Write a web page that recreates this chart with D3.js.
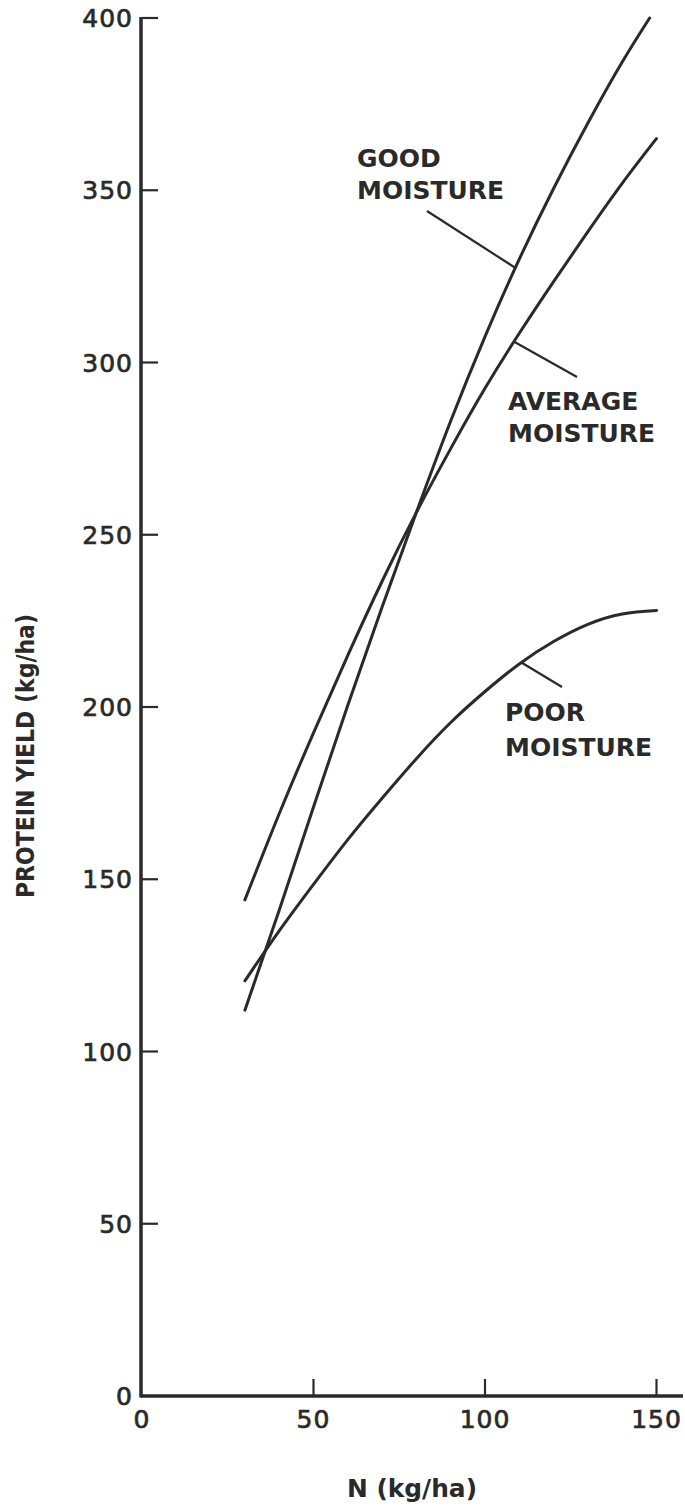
<!DOCTYPE html>
<html>
<head>
<meta charset="utf-8">
<script src="https://cdn.jsdelivr.net/npm/d3@7"></script>
<style>
  html, body { margin: 0; padding: 0; background: #fff; }
  svg { display: block; }
</style>
</head>
<body>
<div id="chart"></div>
<script>
// Protein yield response to applied nitrogen under three moisture regimes
const goodN = [30, 40, 50, 60, 70, 80, 90, 100, 110, 120, 130, 140, 148];
const goodYield = [112, 141, 171, 200.5, 229, 256.5, 283, 307.5, 330, 350.5, 369.5, 387.2, 400];

const averageN = [30, 40, 50, 60, 70, 80, 90, 100, 110, 120, 130, 140, 150];
const averageYield = [144, 169, 192.5, 215, 236.5, 256.5, 275, 292.5, 308.5, 323.5, 338, 352, 365];

const poorN = [30, 40, 50, 60, 70, 80, 90, 100, 110, 120, 130, 140, 150];
const poorYield = [120.5, 135, 148.5, 161.5, 173.5, 185, 195.5, 204.5, 212.5, 219, 224, 227, 228];

const xTicks = [0, 50, 100, 150];
const yTicks = [0, 50, 100, 150, 200, 250, 300, 350, 400];

const seriesLabels = [
  { lines: ["GOOD", "MOISTURE"], n: 108.8, v: 327.5 },
  { lines: ["AVERAGE", "MOISTURE"], n: 108.5, v: 306 },
  { lines: ["POOR", "MOISTURE"], n: 110.5, v: 213 }
];

const W = 685, H = 1509;
const ink = "#2a2a2a";
const font = "'DejaVu Sans', sans-serif";

const svg = d3.select("#chart").append("svg")
  .attr("width", W).attr("height", H)
  .style("background", "#fff");

const x = d3.scaleLinear().domain([0, 150]).range([142, 656.5]);
const y = d3.scaleLinear().domain([0, 400]).range([1396, 18]);

// axes
const g = svg.append("g");
g.append("line")
  .attr("x1", x(0) - 1).attr("x2", 683)
  .attr("y1", y(0)).attr("y2", y(0))
  .attr("stroke", ink).attr("stroke-width", 3.5);
g.append("line")
  .attr("x1", x(0) - 1).attr("x2", x(0) - 1)
  .attr("y1", y(0) + 1.5).attr("y2", y(400) - 1)
  .attr("stroke", ink).attr("stroke-width", 3.5);

// y ticks point into the plot
g.selectAll(".ytick").data(yTicks.filter(d => d > 0)).join("line")
  .attr("x1", x(0)).attr("x2", x(0) + 16)
  .attr("y1", d => y(d)).attr("y2", d => y(d))
  .attr("stroke", ink).attr("stroke-width", 2.2);
g.selectAll(".ylab").data(yTicks).join("text")
  .attr("x", 133).attr("y", d => y(d))
  .attr("dy", "0.36em")
  .attr("text-anchor", "end")
  .attr("font-family", font).attr("font-size", 25)
  .attr("letter-spacing", 1)
  .attr("fill", ink).attr("stroke", ink).attr("stroke-width", 0.7)
  .text(d => d);

// x ticks point up into the plot
g.selectAll(".xtick").data(xTicks.filter(d => d > 0)).join("line")
  .attr("x1", d => x(d)).attr("x2", d => x(d))
  .attr("y1", y(0)).attr("y2", y(0) - 17)
  .attr("stroke", ink).attr("stroke-width", 2.2);
g.selectAll(".xlab").data(xTicks).join("text")
  .attr("x", d => x(d)).attr("y", 1428)
  .attr("text-anchor", "middle")
  .attr("font-family", font).attr("font-size", 25)
  .attr("letter-spacing", 1)
  .attr("fill", ink).attr("stroke", ink).attr("stroke-width", 0.7)
  .text(d => d);

// axis titles
svg.append("text")
  .attr("x", 412).attr("y", 1497)
  .attr("text-anchor", "middle")
  .attr("font-family", font).attr("font-weight", "bold").attr("font-size", 25)
  .attr("textLength", 130).attr("lengthAdjust", "spacingAndGlyphs")
  .attr("fill", ink)
  .text("N (kg/ha)");
svg.append("text")
  .attr("transform", "translate(34,756) rotate(-90)")
  .attr("text-anchor", "middle")
  .attr("font-family", font).attr("font-weight", "bold").attr("font-size", 24)
  .attr("textLength", 284).attr("lengthAdjust", "spacingAndGlyphs")
  .attr("fill", ink)
  .text("PROTEIN YIELD (kg/ha)");

// response curves
const line = d3.line()
  .x(d => x(d[0])).y(d => y(d[1]))
  .curve(d3.curveNatural);

const series = [
  d3.zip(goodN, goodYield),
  d3.zip(averageN, averageYield),
  d3.zip(poorN, poorYield)
];
svg.selectAll(".curve").data(series).join("path")
  .attr("d", line)
  .attr("fill", "none")
  .attr("stroke", ink)
  .attr("stroke-width", 3)
  .attr("stroke-linecap", "round");

// leader lines and labels
const labelPlacement = [
  { from: [427, 211], text: [357, 167], gap: 32 },
  { from: [577, 377], text: [508, 410], gap: 32 },
  { from: [562, 687], text: [505, 721], gap: 35 }
];
seriesLabels.forEach((s, i) => {
  const p = labelPlacement[i];
  svg.append("line")
    .attr("x1", p.from[0]).attr("y1", p.from[1])
    .attr("x2", x(s.n)).attr("y2", y(s.v))
    .attr("stroke", ink).attr("stroke-width", 2.2);
  s.lines.forEach((t, j) => {
    svg.append("text")
      .attr("x", p.text[0]).attr("y", p.text[1] + j * p.gap)
      .attr("font-family", font).attr("font-weight", "bold").attr("font-size", 25)
      .attr("fill", ink)
      .text(t);
  });
});
</script>
</body>
</html>
